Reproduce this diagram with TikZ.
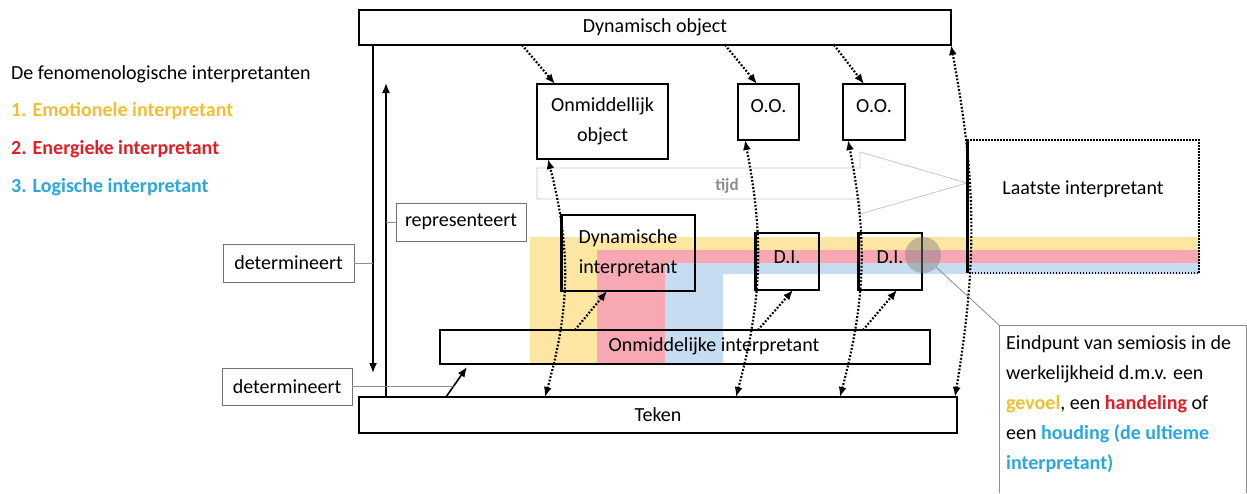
\documentclass[tikz,border=0pt]{standalone}
\usepackage{fontspec}
\setmainfont{Carlito}
\usetikzlibrary{arrows.meta,calc}
\definecolor{bandY}{RGB}{253,230,162}
\definecolor{bandR}{RGB}{248,168,178}
\definecolor{bandB}{RGB}{198,220,240}
\definecolor{textY}{RGB}{240,192,52}
\definecolor{textR}{RGB}{226,30,38}
\definecolor{textB}{RGB}{41,168,224}
\begin{document}
\begin{tikzpicture}[x=1pt,y=-1pt,
  every node/.style={font=\fontsize{20}{30}\selectfont},
  box/.style={draw, line width=1.6pt, inner sep=0pt, outer sep=0pt, align=center},
  lbl/.style={draw=black!55, line width=0.8pt, inner sep=0pt, outer sep=0pt},
  conn/.style={draw=black!45, line width=0.8pt},
  dotline/.style={line width=2.2pt, dash pattern=on 1.8pt off 1.8pt, line cap=butt},
  onetip/.style={-{Latex[length=10pt,width=8pt]}},
  twotip/.style={{Latex[length=10pt,width=8pt]}-{Latex[length=10pt,width=8pt]}},
  solidarr/.style={line width=1.6pt, -{Latex[length=10pt,width=8pt]}}
]
\useasboundingbox (0,0) rectangle (1247,493);

% colour bands
\fill[bandY] (530,237) -- (1199,237) -- (1199,250) -- (597,250) -- (597,364) -- (530,364) -- cycle;
\fill[bandR] (597,250) -- (1199,250) -- (1199,263) -- (665,263) -- (665,364) -- (597,364) -- cycle;
\fill[bandB] (665,263) -- (1199,263) -- (1199,274) -- (723,274) -- (723,364) -- (665,364) -- cycle;

% legend
\node[anchor=west, inner sep=0] (leg0) at (11,74) {De fenomenologische interpretanten};
\node[anchor=west, inner sep=0, text=textY, font=\fontsize{20}{30}\selectfont\bfseries] (leg1) at (11,111) {1. Emotionele interpretant};
\node[anchor=west, inner sep=0, text=textR, font=\fontsize{20}{30}\selectfont\bfseries] (leg2) at (11,149) {2. Energieke interpretant};
\node[anchor=west, inner sep=0, text=textB, font=\fontsize{20}{30}\selectfont\bfseries] (leg3) at (11,187) {3. Logische interpretant};

% main boxes
\node[box, minimum width=592, minimum height=35] (DO) at (655,27.5) {Dynamisch object};
\node[box, minimum width=131, minimum height=75] (onmobj) at (602.5,121.5) {Onmiddellijk\\object};
\node[box, minimum width=61, minimum height=56, text depth=12pt] (oo1) at (768.5,112) {O.O.};
\node[box, minimum width=62, minimum height=56, text depth=12pt] (oo2) at (874,112) {O.O.};
\node[box, minimum width=134, minimum height=76] (dynint) at (628,253) {Dynamische\\interpretant};
\node[box, minimum width=64, minimum height=57, text depth=8pt] (di1) at (787,261.5) {D.I.};
\node[box, minimum width=64, minimum height=57, text depth=8pt] (di2) at (890,261.5) {D.I.};
\draw[line width=3pt] (dynint.north west) -- (dynint.south west);
\draw[line width=3pt] (di1.north west) -- (di1.south west);
\draw[line width=3pt] (di2.north west) -- (di2.south west);
\node[box, minimum width=490, minimum height=34] (oi) at (685,347) {};
\node[inner sep=0] (oitext) at (714,346) {Onmiddelijke interpretant};
\node[box, minimum width=598, minimum height=36] (teken) at (658,415) {Teken};

% tijd arrow
\draw[draw=black!22, line width=0.8pt] (537,168) -- (860,168) -- (860,152) -- (967,183) -- (860,214) -- (860,199) -- (537,199) -- cycle;
\node[text=black!45, font=\fontsize{17}{20}\selectfont\bfseries] (tijd) at (727,186) {tijd};

% laatste interpretant
\node[minimum width=232, minimum height=133, inner sep=0, outer sep=0] (laatste) at (1083,206.5) {};
\draw[line width=1.8pt, dash pattern=on 1.5pt off 1.5pt] (laatste.north west) -- (laatste.north east) -- (laatste.south east) -- (laatste.south west);
\draw[line width=3pt] (laatste.north west) -- (laatste.south west);
\node (laatstetext) at (1083,189) {Laatste interpretant};

% label boxes
\node[lbl, minimum width=130, minimum height=38] (repr) at (461,222) {representeert};
\node[lbl, minimum width=131, minimum height=38] (det1) at (288.5,263) {determineert};
\node[lbl, minimum width=130, minimum height=37] (det2) at (287,386.5) {determineert};

% solid arrows
\coordinate (dtip) at (373,373);
\coordinate (utip) at (386,83);
\coordinate (oitip) at (467,367);
\draw[solidarr] ($(DO.south west)+(14,0)$) -- (dtip);
\draw[solidarr] ($(teken.north west)+(27,0)$) -- (utip);
\draw[solidarr] ($(teken.north west)+(87,0)$) -- (oitip);
\draw[conn] (repr.west) -- (repr.west -| utip);
\draw[conn] (det1.east) -- (det1.east -| dtip);
\draw[conn] (det2.east) -- ($($(teken.north west)+(87,0)$)!0.35!(oitip)$);

% dotted arrows from dynamic object
\draw[dotline, onetip] ($(DO.south west)+(163,0)$) -- ($(onmobj.north west)+(18,0)$);
\draw[dotline, onetip] ($(DO.south west)+(366,0)$) -- ($(oo1.north west)+(19,0)$);
\draw[dotline, onetip] ($(DO.south west)+(475,0)$) -- ($(oo2.north west)+(21,0)$);

% dotted arrows from onmiddelijke interpretant
\draw[dotline, onetip] ($(oi.north west)+(135,0)$) -- ($(dynint.south west)+(46,0)$);
\draw[dotline, onetip] ($(oi.north west)+(318,0)$) -- ($(di1.south west)+(38,0)$);
\draw[dotline, onetip] ($(oi.north west)+(423,0)$) -- ($(di2.south west)+(39,0)$);

% curved dotted arrows between teken and objects
\draw[dotline, twotip] ($(teken.north west)+(186,0)$) to[bend right=15] ($(onmobj.south west)+(11,0)$);
\draw[dotline, twotip] ($(teken.north west)+(377,0)$) to[bend right=13] ($(oo1.south west)+(7,0)$);
\draw[dotline, twotip] ($(teken.north west)+(481,0)$) to[bend right=13] ($(oo2.south west)+(5,0)$);
\draw[dotline, twotip] ($(teken.north east)+(-2,0)$) to[bend right=10] (DO.south east);

% end point marker and callout
\node[circle, fill=black!50, opacity=0.45, minimum size=36, inner sep=0] (endpt) at (923,255) {};
\coordinate (callout) at (999,325);
\draw[conn] (endpt) -- (callout);
\draw[conn] (999,493) -- (callout) -- (1246,325) -- (1246,493);
\node[anchor=north west, align=left, inner sep=0] (calltext) at (1006,335)
 {Eindpunt van semiosis in de\\
  werkelijkheid d.m.v. een\\
  {\bfseries\color{textY}gevoel}, een {\bfseries\color{textR}handeling} of\\
  een {\bfseries\color{textB}houding (de ultieme}\\
  {\bfseries\color{textB}interpretant)}};
\end{tikzpicture}
\end{document}
